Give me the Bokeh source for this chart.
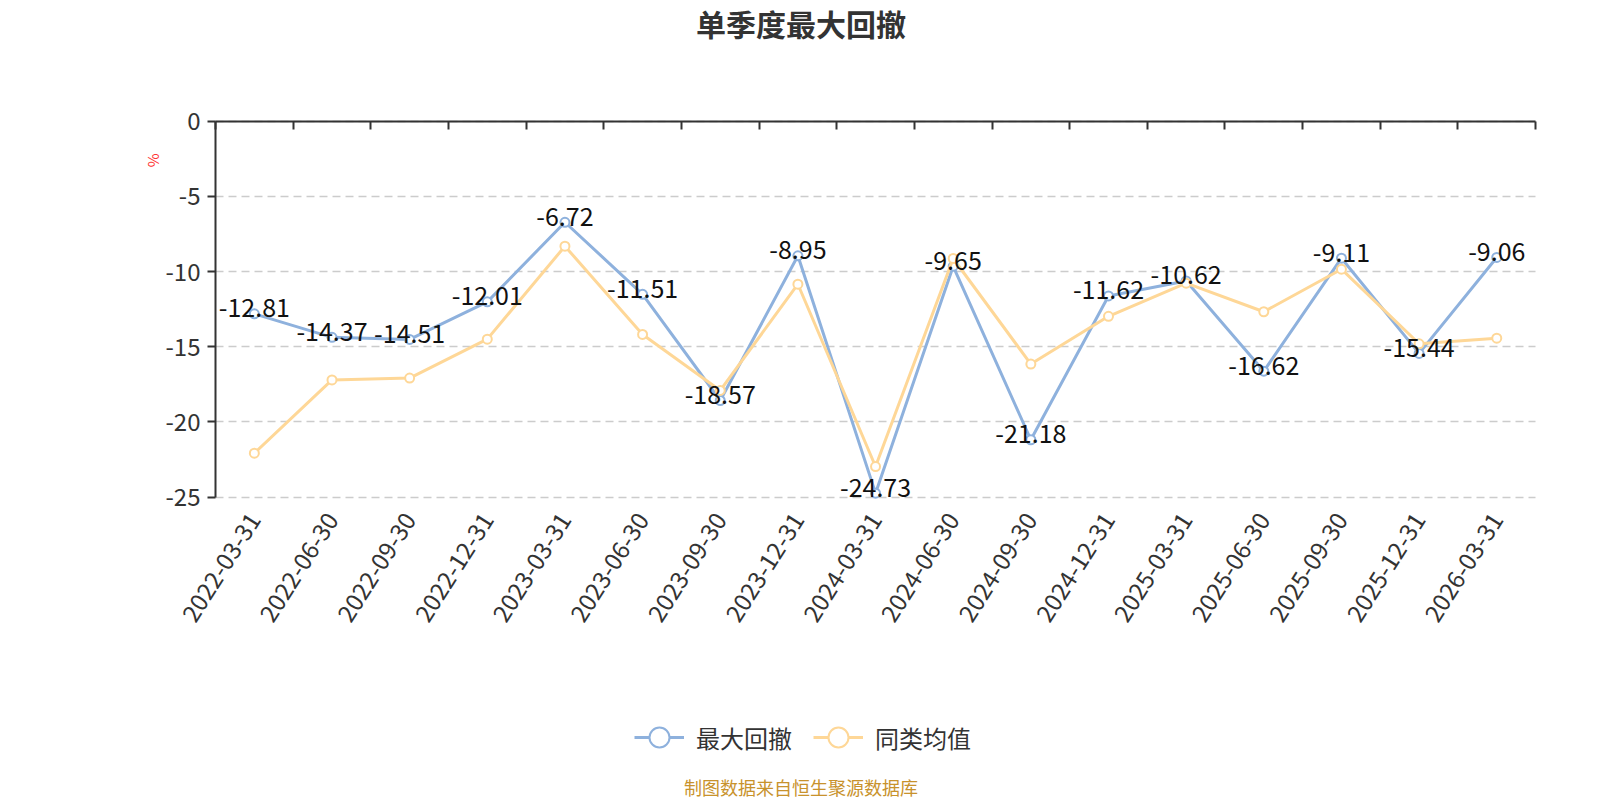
import math
from bokeh.plotting import figure
from bokeh.models import (Range1d, LinearAxis, FixedTicker, Label, Grid,
                          Legend, LegendItem)
from bokeh.core.properties import value
from bokeh.embed import file_html
from bokeh.resources import INLINE

dates = ["2022-03-31", "2022-06-30", "2022-09-30", "2022-12-31",
         "2023-03-31", "2023-06-30", "2023-09-30", "2023-12-31",
         "2024-03-31", "2024-06-30", "2024-09-30", "2024-12-31",
         "2025-03-31", "2025-06-30", "2025-09-30", "2025-12-31",
         "2026-03-31"]
max_drawdown = [-12.81, -14.37, -14.51, -12.01, -6.72, -11.51, -18.57, -8.95,
                -24.73, -9.65, -21.18, -11.62, -10.62, -16.62, -9.11, -15.44,
                -9.06]
peer_avg = [-22.07, -17.2, -17.08, -14.49, -8.31, -14.18, -17.9, -10.84,
            -22.96, -9.13, -16.15, -12.97, -10.77, -12.67, -9.84, -14.8,
            -14.43]
y_ticks = [-25, -20, -15, -10, -5, 0]

FONT = "Noto Sans CJK SC"
BLUE = "#8eb1dd"
ORANGE = "#fed797"
AXIS = "#333333"

n = len(dates)
xs = [i + 0.5 for i in range(n)]  # each date in the middle of its band

# the frame fills the whole canvas so titles/labels outside the grid are not clipped
p = figure(x_range=Range1d(-2.769, 17.63), y_range=Range1d(-45.166, 8.025),
           width=1584, height=800, output_backend="svg", toolbar_location=None,
           x_axis_location=None, y_axis_location=None, min_border=0)
p.outline_line_color = None
for g in p.grid:
    g.visible = False

grid = Grid(dimension=1, ticker=FixedTicker(ticks=y_ticks), bounds=(-25, 0),
            cross_bounds=(0, n), grid_line_color="#cccccc",
            grid_line_width=1.5, grid_line_dash="8 5")
p.add_layout(grid)

ya = LinearAxis(fixed_location=0, bounds=(-25, 0),
                ticker=FixedTicker(ticks=y_ticks),
                major_label_overrides={v: str(v) for v in y_ticks},
                minor_tick_line_color=None, major_tick_in=0, major_tick_out=8,
                axis_line_width=2, major_tick_line_width=2,
                axis_line_color=AXIS, major_tick_line_color=AXIS,
                major_label_text_font=FONT, major_label_text_font_size="24px",
                major_label_text_color=AXIS, major_label_standoff=7)
p.add_layout(ya, "left")

# zero line on top with ticks between categories, no labels
top = LinearAxis(fixed_location=0, bounds=(0, n),
                 ticker=FixedTicker(ticks=list(range(n + 1))),
                 major_label_overrides={i: "" for i in range(n + 1)},
                 major_tick_in=8, major_tick_out=0, minor_tick_line_color=None,
                 axis_line_width=2, major_tick_line_width=2,
                 axis_line_color=AXIS, major_tick_line_color=AXIS,
                 major_label_standoff=0)
p.add_layout(top, "above")

# rotated date labels under the -25 line
xa = LinearAxis(fixed_location=-25, ticker=FixedTicker(ticks=xs),
                major_label_overrides={x: d for x, d in zip(xs, dates)},
                axis_line_color=None, major_tick_line_color=None,
                minor_tick_line_color=None,
                major_label_orientation=math.radians(57.5),
                major_label_text_font=FONT, major_label_text_font_size="24px",
                major_label_text_color=AXIS, major_label_standoff=12)
p.add_layout(xa, "below")

bl = p.line(xs, max_drawdown, line_color=BLUE, line_width=3)
bs = p.scatter(xs, max_drawdown, size=9, line_color=BLUE, line_width=2,
               fill_color="white")
ol = p.line(xs, peer_avg, line_color=ORANGE, line_width=3)
os_ = p.scatter(xs, peer_avg, size=9, line_color=ORANGE, line_width=2,
                fill_color="white")

p.text(xs, max_drawdown, text=[f"{v:.2f}" for v in max_drawdown],
       text_font=value(FONT), text_font_size="25px", text_color="#111111",
       text_align="center", text_baseline="alphabetic", y_offset=-6)

legend = Legend(items=[LegendItem(label="最大回撤", renderers=[bl, bs]),
                       LegendItem(label="同类均值", renderers=[ol, os_])],
                orientation="horizontal", location=(634, 33),
                glyph_width=50, glyph_height=60, label_standoff=12, spacing=21,
                padding=0, margin=0, border_line_color=None,
                background_fill_alpha=0,
                label_text_font=FONT, label_text_font_size="24px",
                label_text_color=AXIS)
p.add_layout(legend, "center")

p.add_layout(Label(x=7.54, y=6.5, text="单季度最大回撤", text_font=FONT,
                   text_font_size="30px", text_font_style="bold",
                   text_color=AXIS, text_align="center",
                   text_baseline="middle"))
p.add_layout(Label(x=-0.815, y=-2.61, text="%", text_font=FONT,
                   text_font_size="15px", text_color="#ff3333",
                   angle=math.pi / 2, text_align="center",
                   text_baseline="middle"))
p.add_layout(Label(x=7.54, y=-44.25, text="制图数据来自恒生聚源数据库",
                   text_font=FONT, text_font_size="18px", text_color="#c8922c",
                   text_align="center", text_baseline="middle"))

open("out.html", "w").write(file_html(p, INLINE))
